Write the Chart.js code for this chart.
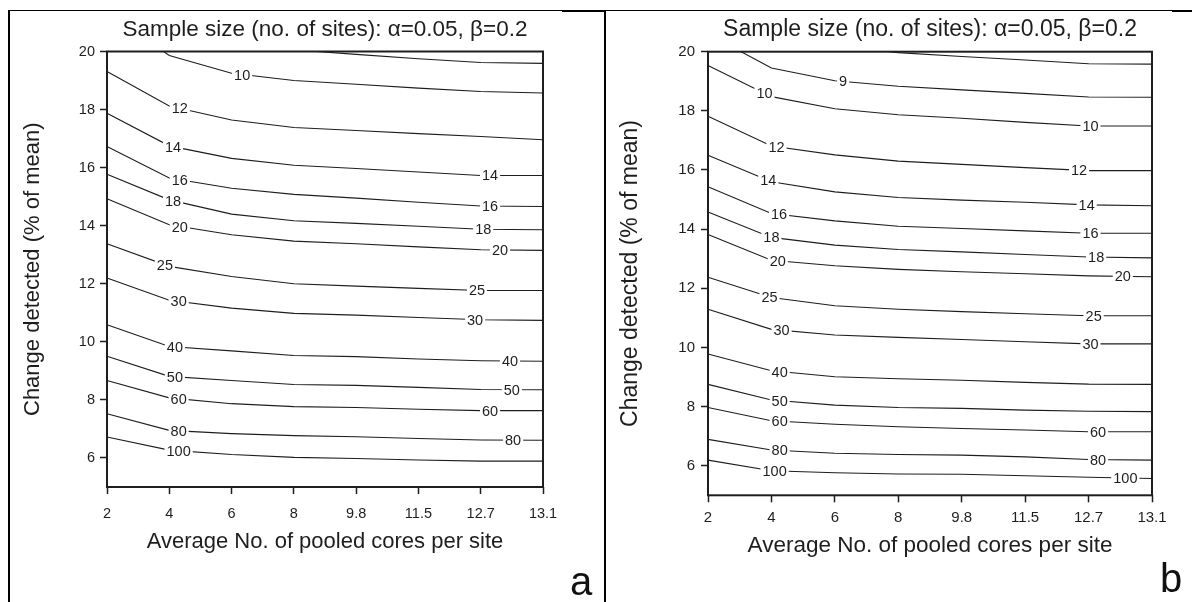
<!DOCTYPE html>
<html>
<head>
<meta charset="utf-8">
<script src="https://cdn.jsdelivr.net/npm/chart.js@4/dist/chart.umd.min.js"></script>
<style>
  html, body { margin: 0; padding: 0; background: #fff; }
  #page { position: relative; width: 1192px; height: 602px; overflow: hidden; background: #fff; }
  .rule { position: absolute; background: #000; }
  .panel { position: absolute; }
  .tag { position: absolute; font-family: "Liberation Sans Narrow", "Liberation Sans", sans-serif;
         font-size: 40px; line-height: 40px; color: #111; }
</style>
</head>
<body>
<div id="page">
  <div class="rule" style="left:8px;top:10px;width:1184px;height:1px;"></div>
  <div class="rule" style="left:562px;top:10px;width:44px;height:2px;"></div>
  <div class="rule" style="left:1172px;top:10px;width:20px;height:2px;"></div>
  <div class="rule" style="left:8px;top:10px;width:2px;height:592px;"></div>
  <div class="rule" style="left:604px;top:10px;width:2px;height:592px;"></div>
  <div class="panel" style="left:10px;top:11px;width:594px;height:591px;"><canvas id="chartA"></canvas></div>
  <div class="panel" style="left:606px;top:11px;width:586px;height:591px;"><canvas id="chartB"></canvas></div>
  <div class="tag" style="left:570px;top:561px;">a</div>
  <div class="tag" style="left:1160px;top:558px;">b</div>
</div>
<script>
// Average number of pooled cores per site (evenly spaced categories)
const xLabels = ['2', '4', '6', '8', '9.8', '11.5', '12.7', '13.1'];
// Change detected (% of mean) tick values
const yTicks = [6, 8, 10, 12, 14, 16, 18, 20];

const titleText = 'Sample size (no. of sites): \u03B1=0.05, \u03B2=0.2';
const xTitle = 'Average No. of pooled cores per site';
const yTitle = 'Change detected (% of mean)';

// Panel a: sample-size contour levels and their change-detected values per category
const levelsA = ['9', '10', '12', '14', '16', '18', '20', '25', '30', '40', '50', '60', '80', '100'];
const a9   = [21.5, 20.6, 20.3, 20.06, 19.9, 19.75, 19.62, 19.59];
const a10  = [21.35, 19.86, 19.25, 19.0, 18.87, 18.74, 18.62, 18.57];
const a12  = [19.31, 18.12, 17.64, 17.38, 17.28, 17.17, 17.07, 16.96];
const a14  = [17.87, 16.75, 16.32, 16.08, 15.97, 15.85, 15.73, 15.73];
const a16  = [16.73, 15.64, 15.29, 15.08, 14.95, 14.81, 14.68, 14.66];
const a18  = [15.77, 14.89, 14.40, 14.17, 14.08, 13.98, 13.88, 13.86];
const a20  = [14.93, 14.03, 13.69, 13.47, 13.38, 13.27, 13.17, 13.15];
const a25  = [13.38, 12.60, 12.25, 12.0, 11.92, 11.84, 11.77, 11.77];
const a30  = [12.20, 11.43, 11.16, 10.98, 10.92, 10.84, 10.76, 10.74];
const a40  = [10.59, 9.84, 9.69, 9.53, 9.49, 9.41, 9.35, 9.33];
const a50  = [9.50, 8.81, 8.67, 8.53, 8.50, 8.43, 8.36, 8.35];
const a60  = [8.67, 8.07, 7.87, 7.77, 7.74, 7.68, 7.63, 7.63];
const a80  = [7.52, 6.95, 6.84, 6.77, 6.73, 6.67, 6.62, 6.61];
const a100 = [6.72, 6.27, 6.12, 6.02, 5.98, 5.93, 5.89, 5.89];
const seriesA = [a9, a10, a12, a14, a16, a18, a20, a25, a30, a40, a50, a60, a80, a100];
// where each contour carries its inline value label (category index, fractional)
const labelAtA = [[], [2.17], [1.17], [1.06, 6.15], [1.17, 6.15], [1.06, 6.04], [1.17, 6.31],
                  [0.93, 5.94], [1.15, 5.91], [1.09, 6.47], [1.09, 6.5], [1.15, 6.15], [1.15, 6.52], [1.15]];

// Panel b
const levelsB = ['8', '9', '10', '12', '14', '16', '18', '20', '25', '30', '40', '50', '60', '80', '100'];
const b8   = [21.0, 20.5, 20.2, 19.97, 19.84, 19.72, 19.59, 19.58];
const b9   = [20.6, 19.45, 19.02, 18.83, 18.71, 18.59, 18.47, 18.46];
const b10  = [19.53, 18.48, 18.07, 17.87, 17.75, 17.61, 17.49, 17.49];
const b12  = [17.82, 16.81, 16.51, 16.30, 16.19, 16.08, 15.98, 15.98];
const b14  = [16.50, 15.60, 15.26, 15.07, 14.98, 14.91, 14.82, 14.79];
const b16  = [15.43, 14.53, 14.28, 14.10, 14.02, 13.94, 13.86, 13.86];
const b18  = [14.58, 13.72, 13.46, 13.31, 13.23, 13.14, 13.06, 13.03];
const b20  = [13.82, 12.95, 12.76, 12.64, 12.56, 12.49, 12.42, 12.39];
const b25  = [12.37, 11.69, 11.41, 11.29, 11.21, 11.14, 11.07, 11.07];
const b30  = [11.29, 10.61, 10.42, 10.34, 10.27, 10.19, 10.12, 10.12];
const b40  = [9.78, 9.21, 9.01, 8.94, 8.89, 8.82, 8.76, 8.75];
const b50  = [8.75, 8.22, 8.05, 7.97, 7.94, 7.88, 7.84, 7.83];
const b60  = [7.97, 7.52, 7.40, 7.32, 7.26, 7.21, 7.15, 7.15];
const b80  = [6.89, 6.53, 6.42, 6.38, 6.36, 6.30, 6.21, 6.19];
const b100 = [6.19, 5.83, 5.76, 5.72, 5.71, 5.66, 5.61, 5.57];
const seriesB = [b8, b9, b10, b12, b14, b16, b18, b20, b25, b30, b40, b50, b60, b80, b100];
const labelAtB = [[], [2.13], [0.89, 6.03], [1.08, 5.85], [0.95, 5.97], [1.12, 6.03], [1.0, 6.12],
                  [1.10, 6.54], [0.97, 6.08], [1.16, 6.03], [1.13], [1.13], [1.13, 6.15], [1.13, 6.15], [1.05, 6.58]];

const FONT = '"Liberation Sans", Arial, sans-serif';
const INK = '#1e1e1e';

// Inline contour labels: white knock-out box over the line, value text on top
const contourLabels = {
  id: 'contourLabels',
  afterDatasetsDraw(chart, args, opts) {
    const { ctx, scales: { x, y } } = chart;
    ctx.save();
    ctx.font = opts.size + 'px ' + FONT;
    ctx.textAlign = 'center';
    ctx.textBaseline = 'middle';
    chart.data.datasets.forEach(ds => {
      (ds.labelAt || []).forEach(t => {
        const i = Math.floor(t);
        const f = t - i;
        const v0 = ds.data[i];
        const v1 = ds.data[Math.min(i + 1, ds.data.length - 1)];
        const v = v0 + (v1 - v0) * f;
        const px = x.getPixelForValue(t);
        const py = y.getPixelForValue(v);
        const w = ctx.measureText(ds.label).width;
        ctx.fillStyle = '#fff';
        ctx.fillRect(px - w / 2 - 2, py - 6, w + 4, 12);
        ctx.fillStyle = INK;
        ctx.fillText(ds.label, px, py + 1);
      });
    });
    ctx.restore();
  }
};

// Box around the plotting area
const plotFrame = {
  id: 'plotFrame',
  afterDraw(chart) {
    const { ctx, chartArea: a } = chart;
    ctx.save();
    ctx.strokeStyle = INK;
    ctx.lineWidth = 2;
    ctx.strokeRect(a.left, a.top, a.right - a.left, a.bottom - a.top);
    ctx.restore();
  }
};

function buildChart(id, levels, series, labelAt, g) {
  const datasets = series.map((vals, k) => ({
    label: levels[k],
    data: vals,
    labelAt: labelAt[k],
    borderColor: INK,
    borderWidth: 1.1,
    pointRadius: 0,
    tension: 0,
    fill: false
  }));
  return new Chart(document.getElementById(id), {
    type: 'line',
    data: { labels: xLabels, datasets },
    plugins: [contourLabels, plotFrame],
    options: {
      responsive: true,
      maintainAspectRatio: false,
      animation: false,
      events: [],
      layout: { padding: { left: 0, top: 0, right: g.padRight, bottom: 0 } },
      plugins: {
        legend: { display: false },
        tooltip: { enabled: false },
        title: {
          display: true,
          fullSize: false,
          text: titleText,
          color: INK,
          font: { family: FONT, size: g.titleSize, weight: 'normal', lineHeight: 1.2 },
          padding: { top: g.titleTop, bottom: g.titleBottom }
        },
        contourLabels: { size: g.labelSize }
      },
      scales: {
        x: {
          type: 'category',
          offset: false,
          afterFit: s => { s.height = g.xAxisHeight; },
          grid: { display: true, drawOnChartArea: false, drawTicks: true, tickLength: 7, tickWidth: 1.5, tickColor: INK },
          border: { display: false },
          ticks: { color: INK, padding: g.xTickPad, maxRotation: 0, autoSkip: false,
                   font: { family: FONT, size: g.tickSize } },
          title: { display: true, text: xTitle, color: INK,
                   font: { family: FONT, size: g.xTitleSize, lineHeight: 1.2 },
                   padding: { top: 0, bottom: g.xTitleBottom } }
        },
        y: {
          type: 'linear',
          min: 5,
          max: 20,
          afterFit: s => { s.width = g.yAxisWidth; },
          afterBuildTicks: s => { s.ticks = yTicks.map(v => ({ value: v })); },
          grid: { display: true, drawOnChartArea: false, drawTicks: true, tickLength: 7, tickWidth: 1.5, tickColor: INK },
          border: { display: false },
          ticks: { color: INK, padding: g.yTickPad, font: { family: FONT, size: g.tickSize } },
          title: { display: true, text: yTitle, color: INK,
                   font: { family: FONT, size: g.yTitleSize, lineHeight: 1.2 },
                   padding: { top: g.yTitleLeft, bottom: 0 } }
        }
      }
    }
  });
}

buildChart('chartA', levelsA, seriesA, labelAtA, {
  padRight: 61, yAxisWidth: 97, xAxisHeight: 115,
  titleSize: 22.5, titleTop: 5.5, titleBottom: 8,
  tickSize: 14.5, labelSize: 14.5, xTitleSize: 22, yTitleSize: 22,
  xTickPad: 11, yTickPad: 5, xTitleBottom: 46.8, yTitleLeft: 9.8
});

buildChart('chartB', levelsB, seriesB, labelAtB, {
  padRight: 40, yAxisWidth: 102, xAxisHeight: 106.7,
  titleSize: 23, titleTop: 5.2, titleBottom: 7.9,
  tickSize: 15, labelSize: 14.5, xTitleSize: 22.5, yTitleSize: 23,
  xTickPad: 6.5, yTickPad: 6, xTitleBottom: 42.5, yTitleLeft: 11.2
});
</script>
</body>
</html>
